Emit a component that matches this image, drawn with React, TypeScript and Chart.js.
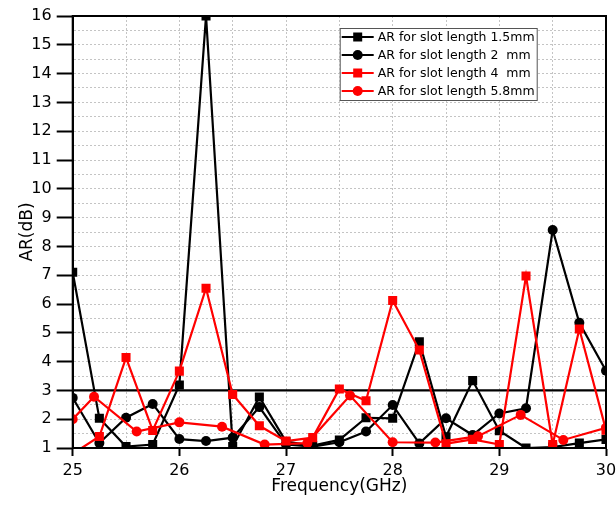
import React, { useEffect, useRef } from "react";
import { Chart, registerables } from "chart.js";

Chart.register(...registerables);

// ---------- data ----------
const freq = [
  25, 25.25, 25.5, 25.75, 26, 26.25, 26.5, 26.75, 27, 27.25, 27.5,
  27.75, 28, 28.25, 28.5, 28.75, 29, 29.25, 29.5, 29.75, 30,
];
const arSlot15 = [
  7.1, 2.03, 1.05, 1.12, 3.19, 16, 1.05, 2.77, 1.22, 1.08, 1.28,
  2.05, 2.03, 4.69, 1.39, 3.34, 1.6, 1.0, 1.03, 1.17, 1.3,
];
const arSlot2 = [
  2.74, 1.17, 2.05, 2.53, 1.31, 1.24, 1.36, 2.42, 1.12, 1.05, 1.2,
  1.57, 2.49, 1.16, 2.03, 1.45, 2.2, 2.38, 8.57, 5.35, 3.68,
];
const arSlot4 = [
  0.8, 1.4, 4.14, 1.61, 3.67, 6.55, 2.86, 1.77, 1.24, 1.36, 3.05,
  2.64, 6.12, 4.4, 1.15, 1.3, 1.12, 6.97, 1.12, 5.13, 1.62,
];
const freq58 = [25, 25.2, 25.6, 26, 26.4, 26.8, 27.2, 27.6, 28, 28.4, 28.8, 29.2, 29.6, 30];
const arSlot58 = [2.0, 2.78, 1.57, 1.89, 1.74, 1.12, 1.17, 2.82, 1.2, 1.19, 1.41, 2.15, 1.28, 1.7];

const seriesLabels = [
  "AR for slot length 1.5mm",
  "AR for slot length 2  mm",
  "AR for slot length 4  mm",
  "AR for slot length 5.8mm",
];
const refLevel = 3;
const xMin = 25;
const xMax = 30;
const yMin = 1;
const yMax = 16;
const xTitle = "Frequency(GHz)";
const yTitle = "AR(dB)";

const FONT = "'DejaVu Sans', 'Liberation Sans', sans-serif";

const toPts = (xs: number[], ys: number[]) => xs.map((x, i) => ({ x, y: ys[i] }));

const isInt = (v: number) => Math.abs(v - Math.round(v)) < 1e-6;

const framePlugin = {
  id: "frame",
  afterDatasetsDraw(chart: any) {
    const { ctx, chartArea: ca } = chart;
    ctx.save();
    ctx.strokeStyle = "#000";
    ctx.lineWidth = 2;
    ctx.setLineDash([]);
    ctx.strokeRect(ca.left, ca.top, ca.right - ca.left, ca.bottom - ca.top);
    ctx.restore();
  },
};

const legendPlugin = {
  id: "boxLegend",
  afterDraw(chart: any) {
    const { ctx, chartArea: ca } = chart;
    const left = ca.left + 267;
    const top = ca.top + 12;
    const w = 197;
    const h = 72;
    ctx.save();
    ctx.fillStyle = "#fff";
    ctx.fillRect(left, top, w, h);
    ctx.strokeStyle = "#555";
    ctx.lineWidth = 1;
    ctx.setLineDash([]);
    ctx.strokeRect(left + 0.5, top + 0.5, w, h);
    const items = chart.data.datasets.filter((d: any) => d.inLegend);
    items.forEach((d: any, i: number) => {
      const y = top + 9 + i * 18;
      ctx.strokeStyle = d.borderColor;
      ctx.lineWidth = 2;
      ctx.beginPath();
      ctx.moveTo(left + 2, y);
      ctx.lineTo(left + 34, y);
      ctx.stroke();
      ctx.fillStyle = d.backgroundColor;
      const cx = left + 18;
      if (d.pointStyle === "rect") {
        ctx.fillRect(cx - 4.5, y - 4.5, 9, 9);
      } else {
        ctx.beginPath();
        ctx.arc(cx, y, 5, 0, Math.PI * 2);
        ctx.fill();
      }
      ctx.fillStyle = "#000";
      ctx.font = `12.5px ${FONT}`;
      ctx.textBaseline = "middle";
      ctx.textAlign = "left";
      ctx.fillText(d.label, left + 38, y + 0.5);
    });
    ctx.restore();
  },
};

export default function App() {
  const canvasRef = useRef<HTMLCanvasElement | null>(null);

  useEffect(() => {
    if (!canvasRef.current) return;
    const common = { borderWidth: 2.2, tension: 0, clip: 0, pointBorderWidth: 0, showLine: true };
    const chart = new Chart(canvasRef.current, {
      type: "line",
      data: {
        datasets: [
          {
            label: "ref",
            data: [
              { x: xMin, y: refLevel },
              { x: xMax, y: refLevel },
            ],
            borderColor: "#000",
            backgroundColor: "#000",
            pointRadius: 0,
            order: 5,
            inLegend: false,
            ...common,
          } as any,
          {
            label: seriesLabels[0],
            data: toPts(freq, arSlot15),
            borderColor: "#000",
            backgroundColor: "#000",
            pointStyle: "rect",
            pointRadius: 6.4,
            order: 4,
            inLegend: true,
            ...common,
          },
          {
            label: seriesLabels[1],
            data: toPts(freq, arSlot2),
            borderColor: "#000",
            backgroundColor: "#000",
            pointStyle: "circle",
            pointRadius: 5,
            order: 3,
            inLegend: true,
            ...common,
          },
          {
            label: seriesLabels[2],
            data: toPts(freq, arSlot4),
            borderColor: "#ff0000",
            backgroundColor: "#ff0000",
            pointStyle: "rect",
            pointRadius: 6.4,
            order: 2,
            inLegend: true,
            ...common,
          },
          {
            label: seriesLabels[3],
            data: toPts(freq58, arSlot58),
            borderColor: "#ff0000",
            backgroundColor: "#ff0000",
            pointStyle: "circle",
            pointRadius: 5,
            order: 1,
            inLegend: true,
            ...common,
          },
        ] as any,
      },
      options: {
        responsive: false,
        animation: false,
        layout: { padding: { left: 0, top: 16, right: 10, bottom: 0 } },
        plugins: {
          legend: { display: false },
          tooltip: { enabled: false },
        },
        scales: {
          x: {
            type: "linear",
            min: xMin,
            max: xMax,
            afterFit: (s: any) => {
              s.height = 62;
              s.paddingLeft = 0;
              s.paddingRight = 0;
            },
            ticks: {
              stepSize: 0.5,
              autoSkip: false,
              maxRotation: 0,
              padding: 5,
              color: "#000",
              font: { family: FONT, size: 16 },
              callback: (v: any) => (isInt(Number(v)) ? String(v) : ""),
            },
            grid: {
              color: "#c4c4c4",
              lineWidth: 1,
              tickLength: 8,
              tickWidth: 2,
              tickColor: (c: any) => (c.tick && isInt(c.tick.value) ? "#000" : "rgba(0,0,0,0)"),
            },
            border: { display: true, color: "#000", width: 2, dash: [2, 2] },
            title: {
              display: true,
              text: xTitle,
              color: "#000",
              font: { family: FONT, size: 17 },
              padding: { top: 0, bottom: 13 },
            },
          },
          y: {
            type: "linear",
            min: yMin,
            max: yMax,
            afterFit: (s: any) => {
              s.width = 72.7;
              s.paddingTop = 0;
              s.paddingBottom = 0;
            },
            ticks: {
              stepSize: 0.5,
              autoSkip: false,
              padding: 5,
              color: "#000",
              font: { family: FONT, size: 16 },
              callback: (v: any) => (isInt(Number(v)) ? String(v) : ""),
            },
            grid: {
              color: "#c4c4c4",
              lineWidth: 1,
              tickLength: 16,
              tickWidth: 2,
              tickColor: (c: any) => (c.tick && isInt(c.tick.value) ? "#000" : "rgba(0,0,0,0)"),
            },
            border: { display: true, color: "#000", width: 2, dash: [2, 2] },
            title: {
              display: true,
              text: yTitle,
              color: "#000",
              font: { family: FONT, size: 17 },
              padding: { top: 17, bottom: 0 },
            },
          },
        },
      } as any,
      plugins: [framePlugin, legendPlugin],
    });
    return () => chart.destroy();
  }, []);

  return (
    <div style={{ position: "absolute", left: 0, top: 0, width: 616, height: 510, background: "#fff" }}>
      <canvas ref={canvasRef} width={616} height={510} style={{ display: "block" }} />
    </div>
  );
}
